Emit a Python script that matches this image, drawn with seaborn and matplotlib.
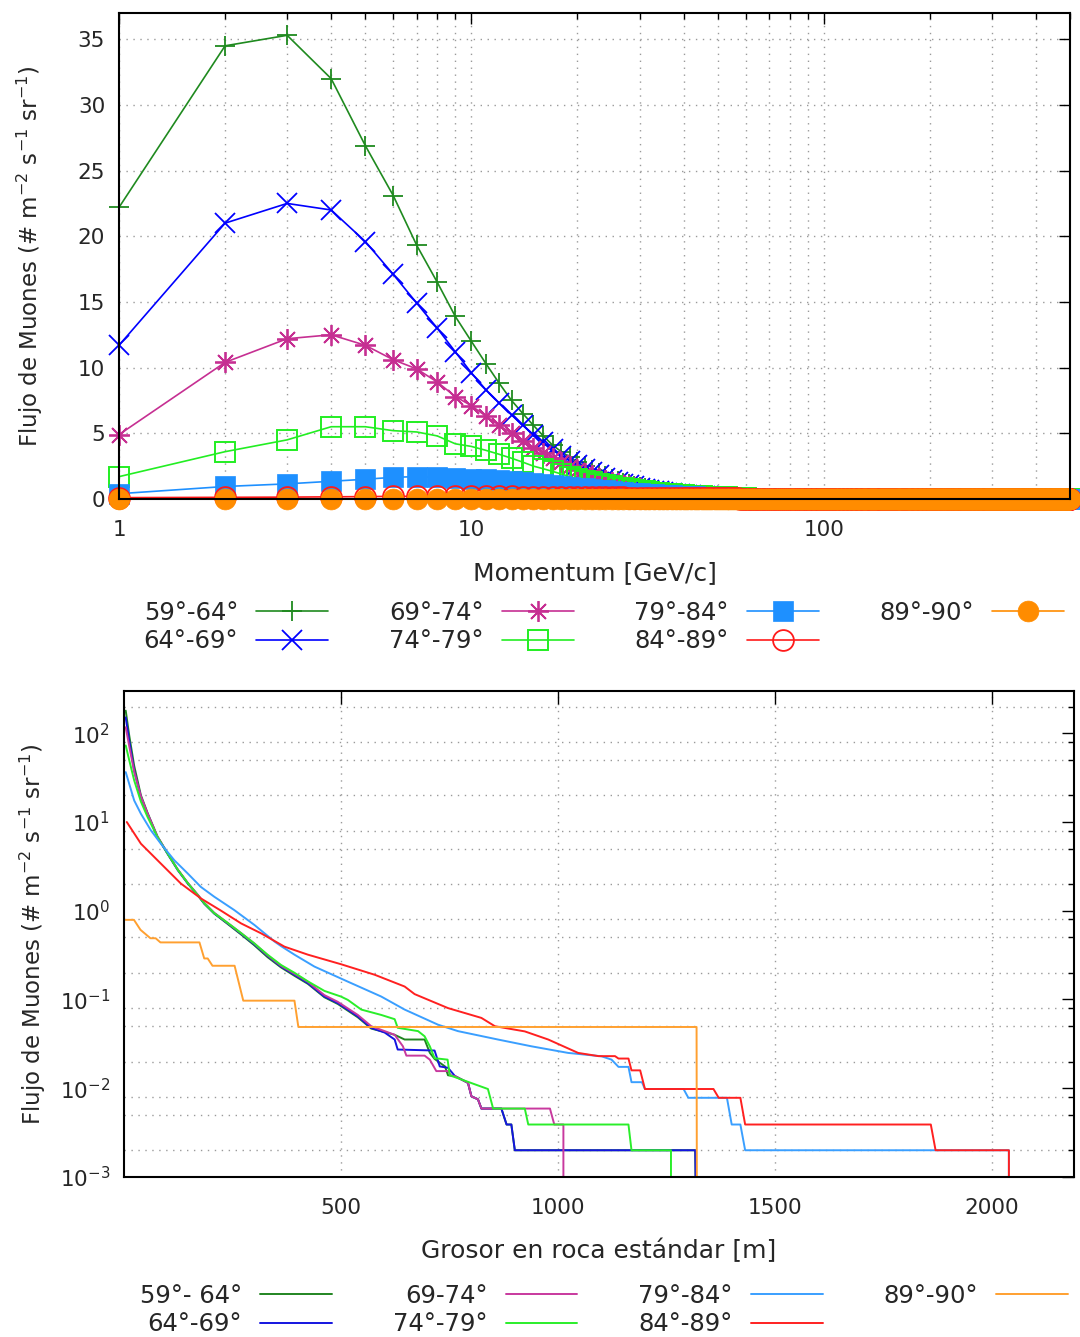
import matplotlib
matplotlib.use("Agg")
import matplotlib.pyplot as plt
import matplotlib.ticker as mticker
import numpy as np
import pandas as pd
import seaborn as sns

# ------------------------------------------------------------------ data (top)
momentum = list(range(1, 501))
n_tail = 440  # flux read as ~0 beyond 60 GeV/c

flux_59_64 = [22.2, 34.5, 35.3, 32.0, 26.9, 23.1, 19.3, 16.5, 13.9, 12.0,
              10.3, 8.8, 7.5, 6.5, 5.6, 4.8, 4.1, 3.6, 3.2, 2.8,
              2.5, 2.2, 1.95, 1.75, 1.55, 1.4, 1.25, 1.12, 1.0, 0.9,
              0.82, 0.75, 0.68, 0.62, 0.56, 0.51, 0.47, 0.43, 0.39, 0.36,
              0.33, 0.30, 0.28, 0.26, 0.24, 0.22, 0.20, 0.19, 0.17, 0.16,
              0.15, 0.14, 0.13, 0.12, 0.11, 0.10, 0.095, 0.09, 0.085, 0.08] + [0.0] * n_tail
flux_64_69 = [11.7, 21.0, 22.5, 22.0, 19.6, 17.1, 14.9, 13.0, 11.2, 9.6,
              8.3, 7.3, 6.4, 5.6, 4.9, 4.3, 3.8, 3.3, 2.9, 2.6,
              2.3, 2.05, 1.8, 1.6, 1.45, 1.3, 1.17, 1.05, 0.95, 0.86,
              0.78, 0.70, 0.64, 0.58, 0.53, 0.48, 0.44, 0.40, 0.37, 0.34,
              0.31, 0.28, 0.26, 0.24, 0.22, 0.20, 0.19, 0.17, 0.16, 0.15,
              0.14, 0.13, 0.12, 0.11, 0.10, 0.095, 0.09, 0.085, 0.08, 0.075] + [0.0] * n_tail
flux_69_74 = [4.9, 10.4, 12.2, 12.5, 11.7, 10.6, 9.9, 8.9, 7.8, 7.1,
              6.3, 5.6, 5.0, 4.4, 3.9, 3.5, 3.1, 2.8, 2.5, 2.2,
              2.0, 1.8, 1.6, 1.45, 1.3, 1.18, 1.07, 0.97, 0.88, 0.80,
              0.72, 0.66, 0.60, 0.55, 0.50, 0.46, 0.42, 0.38, 0.35, 0.32,
              0.29, 0.27, 0.25, 0.23, 0.21, 0.19, 0.18, 0.16, 0.15, 0.14,
              0.13, 0.12, 0.11, 0.10, 0.095, 0.09, 0.085, 0.08, 0.075, 0.07] + [0.0] * n_tail
flux_74_79 = [1.7, 3.6, 4.5, 5.5, 5.5, 5.2, 5.1, 4.8, 4.2, 4.0,
              3.7, 3.4, 3.1, 2.8, 2.5, 2.3, 2.1, 1.9, 1.7, 1.55,
              1.4, 1.27, 1.15, 1.05, 0.95, 0.87, 0.80, 0.73, 0.67, 0.62,
              0.57, 0.52, 0.48, 0.44, 0.41, 0.38, 0.35, 0.32, 0.30, 0.28,
              0.26, 0.24, 0.22, 0.21, 0.19, 0.18, 0.17, 0.16, 0.15, 0.14,
              0.13, 0.12, 0.115, 0.11, 0.10, 0.095, 0.09, 0.085, 0.08, 0.075] + [0.0] * n_tail
flux_79_84 = [0.4, 0.95, 1.15, 1.35, 1.5, 1.65, 1.7, 1.65, 1.6, 1.55,
              1.5, 1.42, 1.35, 1.28, 1.2, 1.12, 1.05, 0.98, 0.92, 0.86,
              0.80, 0.75, 0.70, 0.65, 0.60, 0.56, 0.52, 0.49, 0.46, 0.43,
              0.40, 0.37, 0.35, 0.33, 0.31, 0.29, 0.27, 0.25, 0.24, 0.22,
              0.21, 0.20, 0.19, 0.18, 0.17, 0.16, 0.15, 0.14, 0.13, 0.125,
              0.12, 0.11, 0.105, 0.10, 0.095, 0.09, 0.085, 0.08, 0.075, 0.07] + [0.0] * n_tail
flux_84_89 = [0.10, 0.12, 0.14, 0.16, 0.18, 0.20, 0.20, 0.21, 0.21, 0.20,
              0.20, 0.19, 0.19, 0.18, 0.18, 0.17, 0.17, 0.16, 0.16, 0.15,
              0.15, 0.14, 0.14, 0.13, 0.13, 0.12, 0.12, 0.11, 0.11, 0.10,
              0.10, 0.10, 0.095, 0.09, 0.09, 0.085, 0.085, 0.08, 0.08, 0.075,
              0.075, 0.07, 0.07, 0.065, 0.065, 0.06, 0.06, 0.055, 0.055, 0.05,
              0.05, 0.05, 0.045, 0.045, 0.04, 0.04, 0.04, 0.035, 0.035, 0.03] + [0.0] * n_tail
flux_89_90 = [0.01, 0.01, 0.01, 0.01, 0.01, 0.01, 0.01, 0.01, 0.01, 0.01,
              0.01, 0.01, 0.01, 0.01, 0.01, 0.01, 0.01, 0.01, 0.01, 0.01,
              0.0, 0.0, 0.0, 0.0, 0.0, 0.0, 0.0, 0.0, 0.0, 0.0,
              0.0, 0.0, 0.0, 0.0, 0.0, 0.0, 0.0, 0.0, 0.0, 0.0,
              0.0, 0.0, 0.0, 0.0, 0.0, 0.0, 0.0, 0.0, 0.0, 0.0,
              0.0, 0.0, 0.0, 0.0, 0.0, 0.0, 0.0, 0.0, 0.0, 0.0] + [0.0] * n_tail

top_labels = ["59°-64°", "64°-69°", "69°-74°", "74°-79°", "79°-84°", "84°-89°", "89°-90°"]

# ------------------------------------------------------------------ data (bottom)
bottom_labels = ["59°- 64°", "64°-69°", "69-74°", "74°-79°", "79°-84°", "84°-89°", "89°-90°"]

rock_59_64 = [4, 12, 23.5, 39, 54, 77, 100, 124, 147, 170, 185, 208, 239, 270, 300, 331, 362, 393, 424,
              462, 493, 539, 570, 601, 624, 647, 693, 705, 716, 740, 747, 763, 793, 801, 816, 824, 870,
              882, 893, 901, 1317, 1320]
flux_r_59_64 = [180, 95, 43, 20, 12.8, 6.9, 4.45, 2.9, 2.05, 1.5, 1.2, 0.93, 0.71, 0.54, 0.41, 0.30, 0.23,
                0.185, 0.15, 0.106, 0.089, 0.063, 0.047, 0.043, 0.04, 0.0354, 0.0354, 0.0251, 0.0214,
                0.0176, 0.014, 0.0137, 0.0115, 0.0081, 0.0075, 0.0059, 0.0059, 0.0039, 0.0039, 0.002,
                0.002, 0.0001]

rock_64_69 = [4, 12, 23.5, 39, 54, 77, 100, 124, 147, 170, 185, 208, 239, 270, 300, 331, 362, 393, 424,
              462, 493, 539, 570, 601, 624, 631, 716, 728, 747, 763, 793, 801, 816, 824, 870, 882, 893,
              901, 1317, 1320]
flux_r_64_69 = [151, 83, 38, 19.1, 12.4, 6.77, 4.42, 2.87, 2.03, 1.5, 1.21, 0.935, 0.72, 0.55, 0.42,
                0.31, 0.235, 0.19, 0.153, 0.108, 0.091, 0.0645, 0.0478, 0.0424, 0.0354, 0.0273, 0.0266,
                0.0176, 0.017, 0.0137, 0.0115, 0.0081, 0.0075, 0.0059, 0.0059, 0.0039, 0.0039, 0.002,
                0.002, 0.0001]

rock_69_74 = [4, 12, 23.5, 39, 54, 77, 100, 124, 147, 170, 185, 208, 239, 270, 300, 331, 362, 393, 424,
              462, 493, 539, 570, 601, 624, 643, 651, 693, 705, 720, 747, 755, 763, 793, 801, 816, 824,
              982, 992, 1013, 1013]
flux_r_69_74 = [117, 72, 37, 19.5, 12.6, 6.9, 4.5, 2.92, 2.06, 1.52, 1.23, 0.95, 0.73, 0.56, 0.43,
                0.315, 0.24, 0.195, 0.158, 0.112, 0.094, 0.067, 0.05, 0.044, 0.04, 0.0297, 0.0233,
                0.0233, 0.021, 0.0156, 0.0156, 0.0137, 0.0137, 0.0115, 0.0081, 0.0075, 0.0059, 0.0059,
                0.0039, 0.0039, 0.0001]

rock_74_79 = [4, 12, 23.5, 39, 54, 77, 100, 124, 147, 170, 185, 208, 239, 270, 300, 331, 362, 393, 424,
              462, 500, 516, 547, 593, 624, 631, 678, 693, 705, 716, 746, 751, 789, 839, 851, 924, 932,
              1163, 1170, 1261, 1261]
flux_r_74_79 = [73, 50, 29.5, 17, 11.5, 6.8, 4.45, 2.9, 2.05, 1.5, 1.22, 0.94, 0.73, 0.56, 0.43, 0.32,
                0.245, 0.2, 0.16, 0.125, 0.108, 0.099, 0.077, 0.067, 0.06, 0.048, 0.044, 0.0385, 0.0297,
                0.0218, 0.021, 0.014, 0.012, 0.0098, 0.0059, 0.0059, 0.0039, 0.0039, 0.002, 0.002, 0.0001]

rock_79_84 = [4, 23.5, 39, 62, 85, 116, 147, 177, 208, 254, 301, 347, 362, 393, 439, 516, 593, 647, 724,
              770, 862, 939, 1024, 1101, 1124, 1140, 1163, 1170, 1194, 1201, 1290, 1301, 1390, 1401,
              1421, 1432, 2040, 2040]
flux_r_79_84 = [36.5, 17.5, 12.4, 8.06, 5.7, 3.71, 2.63, 1.86, 1.44, 1.02, 0.69, 0.45, 0.4, 0.32, 0.235,
                0.159, 0.108, 0.077, 0.052, 0.044, 0.0354, 0.0297, 0.025, 0.0229, 0.021, 0.0174, 0.0174,
                0.0117, 0.0117, 0.0098, 0.0098, 0.0078, 0.0078, 0.0039, 0.0039, 0.002, 0.002, 0.0001]

rock_84_89 = [6.5, 39, 85, 131, 177, 224, 270, 316, 370, 424, 500, 578, 647, 670, 747, 824, 855, 924,
              978, 1047, 1094, 1132, 1140, 1163, 1170, 1190, 1201, 1359, 1371, 1421, 1432, 1860, 1871,
              2040, 2040]
flux_r_84_89 = [10.0, 5.7, 3.4, 2.03, 1.38, 1.0, 0.72, 0.557, 0.394, 0.32, 0.25, 0.19, 0.14, 0.115, 0.08,
                0.062, 0.05, 0.0437, 0.0354, 0.025, 0.023, 0.023, 0.0216, 0.0216, 0.0159, 0.0159, 0.0098,
                0.0098, 0.0078, 0.0078, 0.0039, 0.0039, 0.002, 0.002, 0.0001]

rock_89_90 = [4, 23, 38, 61, 73, 84, 174, 185, 193, 204, 255, 275, 393, 402, 1320, 1321]
flux_r_89_90 = [0.79, 0.79, 0.61, 0.49, 0.49, 0.44, 0.44, 0.29, 0.29, 0.24, 0.24, 0.097, 0.097, 0.049,
                0.049, 0.0001]

# ------------------------------------------------------------------ styling
sns.set_theme(style="white")
plt.rcParams["font.family"] = ["DejaVu Sans"]
plt.rcParams["axes.linewidth"] = 1.5
plt.rcParams["axes.edgecolor"] = "black"
plt.rcParams["axes.unicode_minus"] = False

top_colors = ["#1f8a1f", "#0000ff", "#c62f92", "#22ee22", "#1e90ff", "#ff1a1a", "#ff8c00"]
bot_colors = ["#218521", "#1414e0", "#c8399e", "#2aee2a", "#3a9fff", "#ff2020", "#ffa030"]
markers = [dict(marker="+", ms=15, mew=1.3, mfc="none"),
           dict(marker="x", ms=14, mew=1.3, mfc="none"),
           dict(marker=(8, 2, 0), ms=15, mew=1.3, mfc="none"),
           dict(marker="s", ms=14, mew=1.4, mfc="none"),
           dict(marker="s", ms=14, mew=0.5),
           dict(marker="o", ms=15, mew=1.3, mfc="none"),
           dict(marker="o", ms=15, mew=0.5)]

grid_kw = dict(color="#9a9a9a", linestyle=(0, (1, 4)), linewidth=1.0)
ylabel_text = r"Flujo de Muones (# m$^{\mathregular{-2}}$ s$^{\mathregular{-1}}$ sr$^{\mathregular{-1}}$)"

fig = plt.figure(figsize=(10.8, 13.37), dpi=100)
ax1 = fig.add_axes([0.1102, 0.6268, 0.8806, 0.3635])
ax2 = fig.add_axes([0.1148, 0.1197, 0.8796, 0.3635])

# ------------------------------------------------------------------ top plot
top_series = [flux_59_64, flux_64_69, flux_69_74, flux_74_79, flux_79_84, flux_84_89, flux_89_90]
for vals, lab, col, mk in zip(top_series, top_labels, top_colors, markers):
    df = pd.DataFrame({"p": momentum, "flux": vals})
    mk = dict(mk)
    if mk.get("mfc") != "none":
        mk["mfc"] = col
    sns.lineplot(data=df, x="p", y="flux", ax=ax1, color=col, linewidth=1.2,
                 estimator=None, sort=False, label=lab, clip_on=False,
                 mec=col, **mk)

ax1.set_xscale("log")
ax1.set_xlim(1, 500)
ax1.set_ylim(0, 37)
ax1.xaxis.set_major_locator(mticker.FixedLocator([1, 10, 100]))
ax1.xaxis.set_major_formatter(mticker.FuncFormatter(lambda v, _: f"{v:g}"))
ax1.xaxis.set_minor_locator(mticker.LogLocator(base=10, subs=np.arange(2, 10)))
ax1.xaxis.set_minor_formatter(mticker.NullFormatter())
ax1.yaxis.set_major_locator(mticker.MultipleLocator(5))
ax1.grid(True, which="both", axis="x", **grid_kw)
ax1.grid(True, which="major", axis="y", **grid_kw)
ax1.set_axisbelow(True)
ax1.tick_params(which="both", direction="in", top=True, right=True, labelsize=15.5, color="black")
ax1.tick_params(which="major", length=8, width=1.0)
ax1.tick_params(which="minor", length=4, width=1.0)
ax1.tick_params(axis="x", which="major", pad=15)
ax1.tick_params(axis="y", which="major", pad=10)
ax1.set_xlabel("Momentum [GeV/c]", fontsize=18)
ax1.set_ylabel(ylabel_text, fontsize=16.5)
ax1.xaxis.set_label_coords(0.5, -0.128)
ax1.yaxis.set_label_coords(-0.078, 0.5)
for s in ax1.spines.values():
    s.set_zorder(5)
h1, l1 = ax1.get_legend_handles_labels()
ax1.get_legend().remove()

# ------------------------------------------------------------------ bottom plot
bot_x = [rock_59_64, rock_64_69, rock_69_74, rock_74_79, rock_79_84, rock_84_89, rock_89_90]
bot_y = [flux_r_59_64, flux_r_64_69, flux_r_69_74, flux_r_74_79, flux_r_79_84, flux_r_84_89, flux_r_89_90]
for xs, ys, lab, col in zip(bot_x, bot_y, bottom_labels, bot_colors):
    df = pd.DataFrame({"t": xs, "flux": ys})
    sns.lineplot(data=df, x="t", y="flux", ax=ax2, color=col, linewidth=1.4,
                 estimator=None, sort=False, label=lab)

ax2.set_yscale("log")
ax2.set_xlim(0, 2190)
ax2.set_ylim(1e-3, 300)
ax2.xaxis.set_major_locator(mticker.FixedLocator([500, 1000, 1500, 2000]))
ax2.yaxis.set_major_locator(mticker.LogLocator(base=10, numticks=20))
ax2.yaxis.set_minor_locator(mticker.LogLocator(base=10, subs=[2.0, 5.0, 8.0], numticks=20))
ax2.yaxis.set_minor_formatter(mticker.NullFormatter())
ax2.grid(True, which="major", axis="x", **grid_kw)
ax2.grid(True, which="minor", axis="y", **grid_kw)
ax2.grid(False, which="major", axis="y")
ax2.set_axisbelow(True)
ax2.tick_params(which="both", direction="in", top=True, right=True, labelsize=15.5, color="black")
ax2.tick_params(which="major", length=9, width=1.0)
ax2.tick_params(which="minor", length=4, width=1.0)
ax2.tick_params(axis="x", which="major", pad=15)
ax2.tick_params(axis="y", which="major", pad=10)
ax2.set_xlabel("Grosor en roca estándar [m]", fontsize=18)
ax2.set_ylabel(ylabel_text, fontsize=16.5)
ax2.xaxis.set_label_coords(0.5, -0.128)
ax2.yaxis.set_label_coords(-0.080, 0.5)
for s in ax2.spines.values():
    s.set_zorder(5)
h2, l2 = ax2.get_legend_handles_labels()
ax2.get_legend().remove()

# ------------------------------------------------------------------ legends
leg_kw = dict(loc="center", ncol=4, frameon=False, markerfirst=False, fontsize=17.5,
              handlelength=2.96, handletextpad=0.75, columnspacing=2.5, labelspacing=0.2,
              numpoints=1, borderaxespad=0)
fig.legend(h1, l1, bbox_to_anchor=(604 / 1080, 1 - 627 / 1337), **leg_kw)
fig.legend(h2, l2, bbox_to_anchor=(604 / 1080, 1 - 1310 / 1337), **leg_kw)

fig.savefig("out.png", dpi=100)
